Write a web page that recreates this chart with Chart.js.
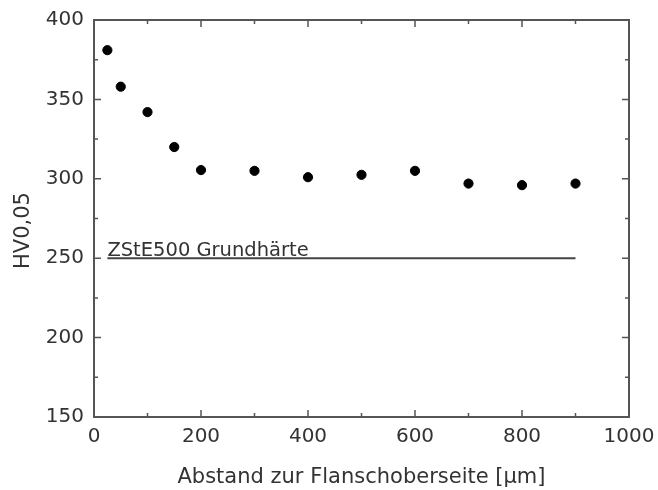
<!DOCTYPE html>
<html>
<head>
<meta charset="utf-8">
<script src="https://cdn.jsdelivr.net/npm/chart.js@4/dist/chart.umd.min.js"></script>
<style>
  html, body { margin: 0; padding: 0; background: #fff; }
  #wrap { width: 658px; height: 490px; }
</style>
</head>
<body>
<div id="wrap"><canvas id="hardness"></canvas></div>
<script>
// measured hardness vs. distance
const distances = [25, 50, 100, 150, 200, 300, 400, 500, 600, 700, 800, 900];
const hardness = [381, 358, 342, 320, 305.5, 305, 301, 302.5, 305, 297, 296, 297];

// base hardness reference line
const baseLineX = [25, 900];
const baseLineY = [250, 250];
const baseLabel = "ZStE500 Grundhärte";

const xTicks = [0, 200, 400, 600, 800, 1000];
const yTicks = [150, 200, 250, 300, 350, 400];
const yTitle = 'HV0,05';

const textColor = '#333';
const frameColor = '#555';
const font = "'DejaVu Sans', Verdana, sans-serif";

// frame with inward ticks on all four sides, the line label and the y title
const framePlugin = {
    id: 'frame',
    afterDatasetsDraw(chart) {
        const {ctx, chartArea: a, scales: {x, y}} = chart;
        ctx.save();
        ctx.strokeStyle = frameColor;
        ctx.lineWidth = 2;
        ctx.strokeRect(a.left, a.top, a.right - a.left, a.bottom - a.top);
        ctx.lineWidth = 1.5;
        ctx.beginPath();
        for (let v = 0; v <= 1000; v += 100) {
            const px = x.getPixelForValue(v);
            const len = v % 200 === 0 ? 7 : 4;
            ctx.moveTo(px, a.bottom); ctx.lineTo(px, a.bottom - len);
            ctx.moveTo(px, a.top); ctx.lineTo(px, a.top + len);
        }
        for (let v = 150; v <= 400; v += 25) {
            const py = y.getPixelForValue(v);
            const len = v % 50 === 0 ? 7 : 4;
            ctx.moveTo(a.left, py); ctx.lineTo(a.left + len, py);
            ctx.moveTo(a.right, py); ctx.lineTo(a.right - len, py);
        }
        ctx.stroke();

        ctx.fillStyle = textColor;
        ctx.font = '19.5px ' + font;
        ctx.textAlign = 'left';
        ctx.textBaseline = 'alphabetic';
        ctx.fillText(baseLabel, x.getPixelForValue(baseLineX[0]), y.getPixelForValue(baseLineY[0]) - 2);

        ctx.font = '21px ' + font;
        ctx.textAlign = 'center';
        ctx.textBaseline = 'middle';
        ctx.translate(24, (a.top + a.bottom) / 2 + 12);
        ctx.rotate(-Math.PI / 2);
        ctx.fillText(yTitle, 0, 0);
        ctx.restore();
    }
};

new Chart(document.getElementById('hardness'), {
    type: 'scatter',
    data: {
        datasets: [
            {
                label: yTitle,
                data: distances.map((d, i) => ({x: d, y: hardness[i]})),
                backgroundColor: '#000',
                borderColor: '#000',
                pointRadius: 4.6,
                pointHoverRadius: 4.6
            },
            {
                label: baseLabel,
                data: baseLineX.map((d, i) => ({x: d, y: baseLineY[i]})),
                showLine: true,
                borderColor: '#444',
                borderWidth: 2,
                pointRadius: 0
            }
        ]
    },
    options: {
        responsive: true,
        maintainAspectRatio: false,
        animation: false,
        layout: {padding: {left: 0, top: 20, right: 29, bottom: 0}},
        plugins: {legend: {display: false}, tooltip: {enabled: false}},
        scales: {
            x: {
                type: 'linear',
                min: 0,
                max: 1000,
                afterBuildTicks: s => { s.ticks = xTicks.map(v => ({value: v})); },
                afterFit: s => { s.height = 73; s.paddingLeft = 0; s.paddingRight = 0; },
                grid: {display: false, drawTicks: false},
                border: {display: false},
                ticks: {color: textColor, font: {family: font, size: 20}, padding: 8, maxRotation: 0,
                        callback: v => String(v)},
                title: {display: true, text: 'Abstand zur Flanschoberseite [µm]', color: textColor,
                        font: {family: font, size: 21}, padding: {top: 0, bottom: 0}}
            },
            y: {
                type: 'linear',
                min: 150,
                max: 400,
                afterBuildTicks: s => { s.ticks = yTicks.map(v => ({value: v})); },
                afterFit: s => { s.width = 94; s.paddingTop = 0; s.paddingBottom = 0; },
                grid: {display: false, drawTicks: false},
                border: {display: false},
                ticks: {color: textColor, font: {family: font, size: 20}, padding: 10,
                        callback: v => String(v)}
            }
        }
    },
    plugins: [framePlugin]
});
</script>
</body>
</html>
